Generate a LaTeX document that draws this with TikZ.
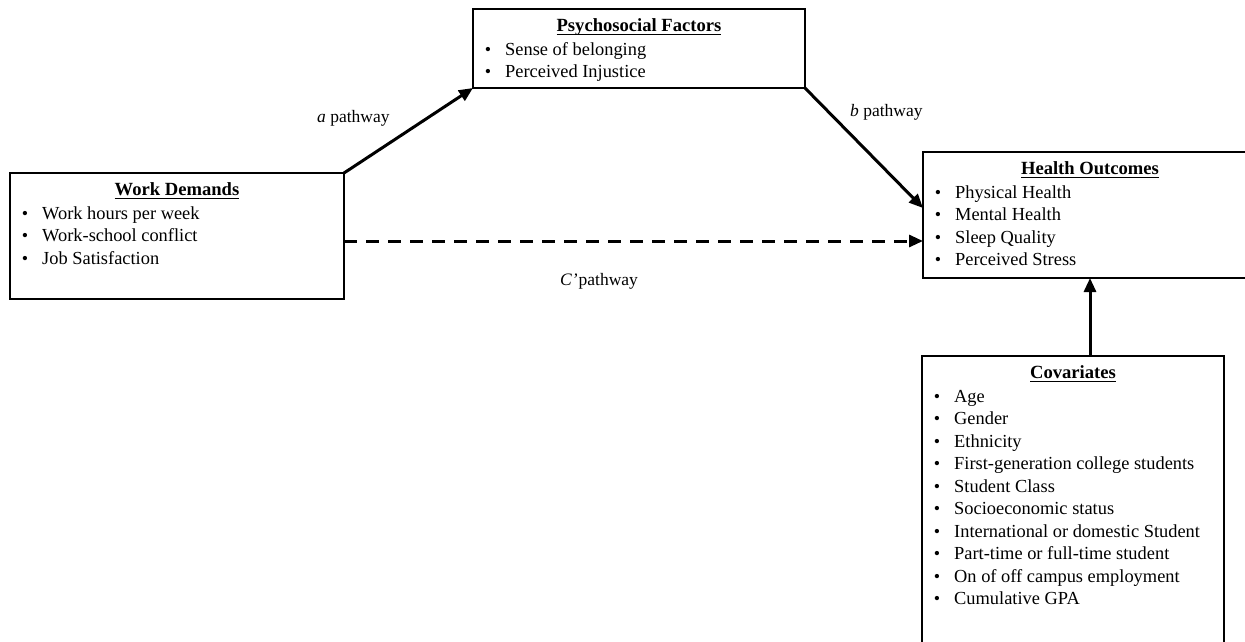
\documentclass[tikz,border=0pt]{standalone}
\usepackage{fontspec}
\setmainfont{Liberation Serif}
\usetikzlibrary{calc,arrows.meta}
\newcommand\ttlul[1]{\setbox0\hbox{\bfseries #1}\rlap{\rule[-4pt]{\wd0}{1.3pt}}\box0}
\tikzset{
  box/.style={draw, line width=1.3pt, anchor=north west, inner sep=0pt, outer sep=0pt},
  ttl/.style={anchor=base, inner sep=0pt, font=\fontsize{18.6}{22}\selectfont},
  bul/.style={anchor=base, inner sep=0pt, font=\fontsize{18}{22}\selectfont},
  itm/.style={anchor=base west, inner sep=0pt, font=\fontsize{18.4}{22}\selectfont},
  lbl/.style={anchor=base west, inner sep=0pt, font=\fontsize{17.5}{21}\selectfont},
  arr/.style={line width=3pt, -{Triangle[length=14pt,width=12pt]}},
}
\newcommand\boxitems[2]{%
  \foreach \itemtext [count=\i] in {#2} {
    \node[bul] (#1b\i) at ($(#1.north west)+(15,{46+22.5*(\i-1)})$) {•};
    \node[itm] (#1i\i) at ($(#1.north west)+(32,{46+22.5*(\i-1)})$) {\itemtext};
  }%
}
\begin{document}
\begin{tikzpicture}[x=1pt,y=-1pt]
\useasboundingbox (0,0) rectangle (1245,641);
% boxes
\node[box, minimum width=334pt, minimum height=126pt] (WD) at (10,173) {};
\node[box, minimum width=332pt, minimum height=79pt] (PF) at (473,9) {};
\node[box, minimum width=334pt, minimum height=126pt] (HO) at (923,152) {};
\node[box, minimum width=302pt, minimum height=300pt] (CV) at (922,356) {};
% titles
\node[ttl] (WDt) at ($(WD.north)+(0,22)$) {\ttlul{Work Demands}};
\node[ttl] (PFt) at ($(PF.north)+(0,22)$) {\ttlul{Psychosocial Factors}};
\node[ttl] (HOt) at ($(HO.north)+(0,22)$) {\ttlul{Health Outcomes}};
\node[ttl] (CVt) at ($(CV.north)+(0,22)$) {\ttlul{Covariates}};
% items
\boxitems{WD}{Work hours per week, Work-school conflict, Job Satisfaction}
\boxitems{PF}{Sense of belonging, Perceived Injustice}
\boxitems{HO}{Physical Health, Mental Health, Sleep Quality, Perceived Stress}
\boxitems{CV}{Age, Gender, Ethnicity, First-generation college students, Student Class, Socioeconomic status, International or domestic Student, Part-time or full-time student, On of off campus employment, Cumulative GPA}
% connectors
\draw[arr] (WD.north east) -- (PF.south west);
\draw[arr] (PF.south east) -- ([yshift=7pt]HO.west);
\coordinate (ds) at ([yshift=-5pt]WD.east);
\draw[arr, dash pattern=on 13pt off 9pt] (ds) -- (HO.west |- ds);
\draw[arr] (CV.north -| HO.south) -- (HO.south);
% labels
\node[lbl] (la) at (317,122.5) {\textit{a} pathway};
\node[lbl] (lb) at (850,116.5) {\textit{b} pathway};
\node[lbl] (lc) at (560,285) {\textit{C’}\hspace{1pt}pathway};
\end{tikzpicture}
\end{document}
